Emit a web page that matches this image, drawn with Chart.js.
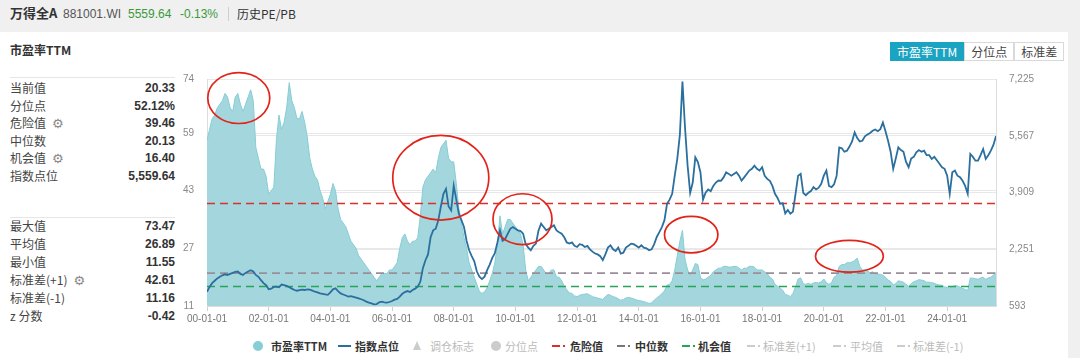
<!DOCTYPE html>
<html><head><meta charset="utf-8">
<script src="https://cdn.jsdelivr.net/npm/chart.js@4.4.1/dist/chart.umd.min.js"></script>
<style>
html,body{margin:0;padding:0;}
body{width:1080px;height:358px;background:#f0f0f0;position:relative;overflow:hidden;font-family:"Liberation Sans","Noto Sans CJK SC",sans-serif;color:#333;}
.abs{position:absolute;white-space:nowrap;}
#panel{position:absolute;left:0;top:32px;width:1068px;height:326px;background:#fff;}
.hd{font-size:12px;line-height:16px;top:6px;}
.lab{font-size:12px;line-height:16px;left:10px;color:#444;font-family:"Noto Sans CJK SC","Liberation Sans",sans-serif;}
.val{font-size:12px;line-height:16px;font-weight:bold;color:#333;text-align:right;}
.gear{font-family:"DejaVu Sans";font-size:13px;line-height:13px;color:#888;margin-left:6px;}
.sep{position:absolute;left:10px;width:165px;height:1px;background:#e6e6e6;}
#btns{position:absolute;left:890px;top:42px;height:19px;display:flex;font-family:"Noto Sans CJK SC",sans-serif;font-size:12px;}
#btns div{height:17px;line-height:17px;border:1px solid #d9d9d9;padding:0 6px;color:#444;background:#fff;}
#btns div.on{background:#1ba3c2;border-color:#1ba3c2;color:#fff;}
#cv{position:absolute;left:170px;top:60px;}
.lg{position:absolute;top:339px;font-size:11px;line-height:14px;font-family:"Noto Sans CJK SC",sans-serif;white-space:nowrap;}
.mk{position:absolute;}
</style></head>
<body>
<div id="panel"></div>
<div class="abs hd" style="left:10px;font-size:13px;font-weight:bold;font-family:'Noto Sans CJK SC',sans-serif;top:5px;">万得全A</div>
<div class="abs hd" style="left:63px;color:#555;">881001.WI</div>
<div class="abs hd" style="left:128px;color:#3a9a3a;">5559.64</div>
<div class="abs hd" style="left:180px;color:#3a9a3a;">-0.13%</div>
<div class="abs" style="left:228px;top:7px;width:1px;height:14px;background:#cfcfcf;"></div>
<div class="abs hd" style="left:237px;color:#333;font-family:'Noto Sans CJK SC',sans-serif;">历史PE/PB</div>

<div class="abs" style="left:10px;top:42px;font-size:12px;line-height:16px;font-weight:bold;font-family:'Noto Sans CJK SC',sans-serif;">市盈率TTM</div>
<div class="sep" style="top:77px;"></div>
<div class="sep" style="top:217px;"></div>
<div id="stats"></div>

<div id="btns"><div class="on">市盈率TTM</div><div>分位点</div><div>标准差</div></div>

<canvas id="cv" width="890" height="275"></canvas>
<div id="legend"></div>

<script>
// ---------- data ----------
const startYear = 2000;   // first month: 2000-01, monthly points
const peValues = [
 57,60,63,64,66,67,68,70,69,66,65,69,
 70,67,65,67,69,71,68,55,52,49,49,47,
 42,43,44,57,64,60,62,66,73,68,66,63,
 63,65,62,58,52,49,47,46,43,41,38,40,
 42,45,43,38,35,34,33,31,29,28,27,25,
 24,23,22,21,20,19,18,19,20,20,20,21,
 21,22,23,27,30,31,29,28,29,29,30,36,
 44,46,47,48,49,48,52,55,56,57,52,51,
 51,45,38,34,30,27,23,21,19,17,15,14.5,
 15,16,18,20,23,28,36,31,33,35,35,34,
 33,32,31,28,21,18,19,20,21,22,22,21,
 20,20,21,21,19,19,18,16.5,15.5,14.6,14.5,13.8,
 13.6,14,14.2,14.3,14.4,14,13.6,13.4,13.2,13,12.8,13.6,
 14.2,14,13.6,13.4,13,12.6,12.8,13.2,13.4,13.2,13,12.7,
 12.5,12.4,12.2,12,11.7,11.9,12.6,13.2,13.8,14.4,15.2,16.8,
 17,18,21,25,29,32,24,21,19.5,21,22.8,22.5,
 19,18.2,18.5,19,19.5,20.5,21,21.5,21.5,22,22,21.8,
 21.8,22,22,21.5,21,21.5,21.5,22,22,21.8,21,21,
 21,20.5,20,19,18.5,17,16.5,16,15.4,14.2,14,13.6,
 14.5,16.3,18.5,18.8,17.2,17,17.3,17,17.4,17.5,17.4,17.7,
 18.5,17.5,17,17.5,19,19.5,22,22.5,22.5,23,23,23.2,
 23.6,24.3,22,21,21,20.8,20.2,20.5,20,19.8,19.8,19.5,
 19,18.2,17.8,16.8,17.2,18,17.8,17.6,17,16.5,17.2,17.7,
 18,18.3,18.2,18,17.6,17.6,17.5,17.3,17,16.8,16.8,16.3,
 16.2,16,16.4,16.6,16.6,16.2,15.9,15.6,15.3,18.8,18.7,18.6,
 18.4,18.8,19,18.4,18.8,19,19.6,20.3
];
const indexValues = [
 1009,1150,1260,1330,1400,1450,1490,1520,1500,1530,1560,1591,
 1600,1530,1500,1560,1600,1640,1600,1500,1446,1350,1260,1200,
 1080,1100,1150,1160,1140,1220,1200,1180,1140,1100,1060,1040,
 1060,1070,1060,1080,1070,1040,1010,990,960,950,930,920,
 990,1080,1110,1030,960,930,900,870,880,860,840,817,
 790,760,720,690,671,640,650,700,720,700,690,710,
 740,780,800,865,950,1000,1030,1000,1058,1100,1156,1300,
 1700,1931,2100,2600,2804,2850,3095,3500,3872,4017,3500,3387,
 4113,3700,3290,3100,2900,2500,2222,2050,1900,1600,1450,1380,
 1450,1640,1800,2000,2135,2450,2804,2500,2550,2700,2850,2900,
 2850,2804,2780,2707,2400,2300,2222,2350,2416,2800,2998,2900,
 2804,2850,2900,2950,2800,2750,2707,2600,2450,2416,2450,2350,
 2318,2400,2380,2318,2350,2250,2180,2125,2100,2050,1931,2100,
 2300,2367,2250,2200,2300,2125,2150,2300,2350,2416,2400,2350,
 2300,2367,2300,2280,2222,2250,2400,2610,2750,2900,3100,3580,
 3700,3870,4400,4900,5600,7150,5800,4700,3900,4200,4937,4800,
 4500,3700,3900,4000,3950,4100,4200,4258,4250,4350,4500,4453,
 4400,4450,4500,4400,4258,4350,4450,4550,4600,4695,4600,4550,
 4647,4400,4308,4250,4100,3872,3750,3580,3600,3300,3400,3290,
 3350,3872,4400,4453,3900,3830,3900,3950,4066,4000,4050,4162,
 4400,4550,4100,4066,4150,4400,5227,5200,5100,5130,5250,5400,
 5664,5500,5400,5421,5550,5600,5650,5713,5750,5700,5760,5954,
 5700,5421,5100,4599,4900,5227,5150,5100,4800,4647,4900,4950,
 5082,5150,5100,5130,5000,5000,4890,4950,4850,4750,4647,4600,
 4400,3872,4500,4550,4400,4355,4250,4100,3872,5035,4950,4840,
 4840,5000,5180,4890,5000,5130,5300,5560
];
const dangerValue = 39.46;
const medianValue = 20.13;
const opportunityValue = 16.40;

const peTicks = [11, 27, 43, 59, 74];
const peTickLabels = ['11', '27', '43', '59', '74'];
const indexTicks = [593, 2251, 3909, 5567, 7225];
const indexTickLabels = ['593', '2,251', '3,909', '5,567', '7,225'];
const xTicks = [2000,2002,2004,2006,2008,2010,2012,2014,2016,2018,2020,2022,2024];
const xTickLabels = ['00-01-01','02-01-01','04-01-01','06-01-01','08-01-01','10-01-01','12-01-01','14-01-01','16-01-01','18-01-01','20-01-01','22-01-01','24-01-01'];

const statLabels1 = ['当前值','分位点','危险值','中位数','机会值','指数点位'];
const statValues1 = ['20.33','52.12%','39.46','20.13','16.40','5,559.64'];
const statGear1 = [false,false,true,false,true,false];
const statLabels2 = ['最大值','平均值','最小值','标准差(+1)','标准差(-1)','z 分数'];
const statValues2 = ['73.47','26.89','11.55','42.61','11.16','-0.42'];
const statGear2 = [false,false,false,true,false,false];

const legendLabels = ['市盈率TTM','指数点位','调仓标志','分位点','危险值','中位数','机会值','标准差(+1)','平均值','标准差(-1)'];
const legendActive = [true,true,false,false,true,true,true,false,false,false];

// red hand-drawn marks: centre (year, PE) and radii (years, PE units)
const highlightCenters = [[2001.03,68.7],[2007.58,46.6],[2010.23,35.1],[2015.70,30.8],[2020.83,24.8]];
const highlightRadii = [[1.005,7.05],[1.557,11.74],[0.957,7.05],[0.866,5.06],[1.10,4.42]];

// ---------- left stats panel ----------
const stats = document.getElementById('stats');
function addRows(labels, values, gears, top0, step){
  labels.forEach((l,i)=>{
    const y = top0 + i*step;
    const a = document.createElement('div');
    a.className='abs lab'; a.style.top=y+'px';
    a.innerHTML = l + (gears[i] ? '<span class="gear">⚙</span>' : '');
    stats.appendChild(a);
    const b = document.createElement('div');
    b.className='abs val'; b.style.top=y+'px'; b.style.left='75px'; b.style.width='100px';
    b.textContent = values[i];
    stats.appendChild(b);
  });
}
addRows(statLabels1, statValues1, statGear1, 80, 17.6);
addRows(statLabels2, statValues2, statGear2, 218, 18);

// ---------- legend ----------
const lgColors = ['#86cdd5','#2b6f9e','#cccccc','#cccccc','#d9302c','#777777','#27a35a','#cccccc','#cccccc','#cccccc'];
const lgMarkerX = [253,338,413,491,552,617,682,747,833,897];
const lgTextX = [271,355,430,505,570,635,698,763,850,913];
const lgType = ['circle','line','tri','circle','dash','dash','dash','dash','dash','dash'];
const lgDiv = document.getElementById('legend');
legendLabels.forEach((t,i)=>{
  const c = lgColors[i];
  let m = '';
  const cy = 346;
  if (lgType[i]==='circle') m = `<div class="mk" style="left:${lgMarkerX[i]}px;top:${cy-5}px;width:10px;height:10px;border-radius:5px;background:${c}"></div>`;
  else if (lgType[i]==='line') m = `<div class="mk" style="left:${lgMarkerX[i]}px;top:${cy-1}px;width:13px;height:2px;background:${c}"></div>`;
  else if (lgType[i]==='tri') m = `<div class="mk" style="left:${lgMarkerX[i]}px;top:${cy-5}px;width:0;height:0;border-left:4.5px solid transparent;border-right:4.5px solid transparent;border-bottom:9px solid ${c}"></div>`;
  else m = `<div class="mk" style="left:${lgMarkerX[i]}px;top:${cy-1}px;width:8px;height:2px;background:${c}"></div><div class="mk" style="left:${lgMarkerX[i]+11}px;top:${cy-1}px;width:2px;height:2px;background:${c}"></div>`;
  lgDiv.insertAdjacentHTML('beforeend', m + `<div class="lg" style="left:${lgTextX[i]}px;color:${legendActive[i]?'#333':'#bbb'};${legendActive[i]?'font-weight:bold;':''}">${t}</div>`);
});

// ---------- chart ----------
const xVals = peValues.map((_, k) => startYear + k / 12);
const xMin = xVals[0], xMax = xVals[xVals.length - 1];
const pePts = peValues.map((v, k) => ({x: xVals[k], y: v}));
const idxPts = indexValues.map((v, k) => ({x: xVals[k], y: v}));
const hline = v => [{x: xMin, y: v}, {x: xMax, y: v}];

const ellipsePlugin = {
  id: 'highlights',
  afterDatasetsDraw(chart){
    const {ctx, scales:{x, y}} = chart;
    ctx.save();
    ctx.strokeStyle = '#e2231a';
    ctx.lineWidth = 1.7;
    highlightCenters.forEach((c, i) => {
      const px = x.getPixelForValue(c[0]), py = y.getPixelForValue(c[1]);
      const rx = Math.abs(x.getPixelForValue(c[0] + highlightRadii[i][0]) - px);
      const ry = Math.abs(y.getPixelForValue(c[1] + highlightRadii[i][1]) - py);
      ctx.beginPath();
      ctx.ellipse(px, py, rx, ry, 0, 0, Math.PI * 2);
      ctx.stroke();
    });
    ctx.restore();
  }
};

const tickFont = {family: '"Liberation Sans", sans-serif', size: 10};
new Chart(document.getElementById('cv'), {
  type: 'line',
  data: {datasets: [
    {label: '指数点位', data: idxPts, yAxisID: 'y1', borderColor: '#2b6f9e', borderWidth: 1.8, pointRadius: 0, fill: false, tension: 0, order: 0},
    {label: '危险值', data: hline(dangerValue), yAxisID: 'y', borderColor: '#d9302c', borderDash: [8, 5], borderWidth: 1.6, pointRadius: 0, fill: false, order: 1},
    {label: '中位数', data: hline(medianValue), yAxisID: 'y', borderColor: '#9a8e98', borderDash: [8, 5], borderWidth: 1.6, pointRadius: 0, fill: false, order: 1},
    {label: '机会值', data: hline(opportunityValue), yAxisID: 'y', borderColor: '#27a35a', borderDash: [8, 5], borderWidth: 1.6, pointRadius: 0, fill: false, order: 1},
    {label: '市盈率TTM', data: pePts, yAxisID: 'y', borderColor: '#86cdd5', backgroundColor: '#a3d7dd', borderWidth: 1, pointRadius: 0, fill: 'start', tension: 0, order: 2}
  ]},
  options: {
    responsive: false, animation: false, events: [],
    layout: {padding: {top: 18, left: 0, right: 0, bottom: 0}},
    plugins: {legend: {display: false}, tooltip: {enabled: false}},
    scales: {
      x: {
        type: 'linear', min: xMin, max: xMax,
        afterBuildTicks: s => { s.ticks = xTicks.map(v => ({value: v})); },
        afterFit: s => { s.height = 29; },
        ticks: {callback: (v, i) => xTickLabels[i], color: '#777', font: tickFont, padding: 2, maxRotation: 0, autoSkip: false},
        grid: {drawOnChartArea: false, drawTicks: true, tickLength: 5, color: '#cfcfcf'},
        border: {display: true, color: '#dddddd'}
      },
      y: {
        position: 'left', min: 11, max: 74,
        afterBuildTicks: s => { s.ticks = peTicks.map(v => ({value: v})); },
        afterFit: s => { s.width = 37; },
        ticks: {callback: (v, i) => peTickLabels[i], color: '#888', font: tickFont, padding: 13},
        grid: {color: '#e8e8e8', drawTicks: false},
        border: {display: true, color: '#dddddd'}
      },
      y1: {
        position: 'right', min: 593, max: 7225,
        afterBuildTicks: s => { s.ticks = indexTicks.map(v => ({value: v})); },
        afterFit: s => { s.width = 64; },
        ticks: {callback: (v, i) => indexTickLabels[i], color: '#888', font: tickFont, padding: 13},
        grid: {color: '#e8e8e8', drawTicks: false},
        border: {display: true, color: '#dddddd'}
      }
    }
  },
  plugins: [ellipsePlugin]
});
</script>
</body></html>
